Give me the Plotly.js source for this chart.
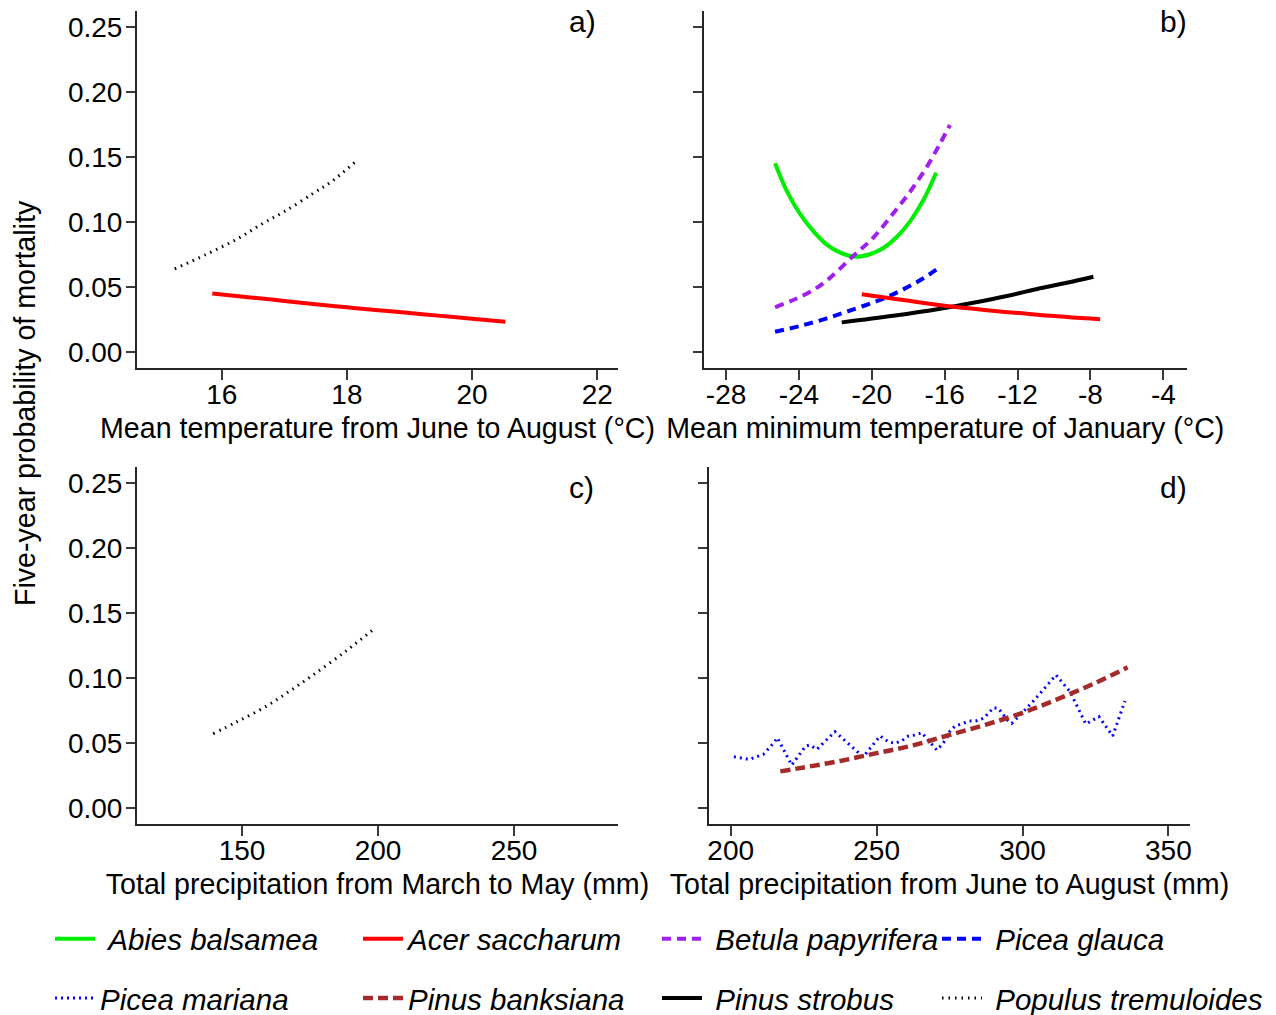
<!DOCTYPE html>
<html>
<head>
<meta charset="utf-8">
<script src="https://cdn.plot.ly/plotly-3.0.1.min.js"></script>
<style>html,body{margin:0;padding:0;background:#fff;}#chart{width:1276px;height:1015px;}</style>
</head>
<body>
<div id="chart"></div>
<script>
// ---------- Data ----------
// Panel a) Mean temperature from June to August (°C)
const a_populus_x = [15.25, 15.75, 16.25, 16.66, 17.0, 17.46, 17.75, 18.13];
const a_populus_y = [0.064, 0.075, 0.087, 0.099, 0.108, 0.122, 0.131, 0.146];
const a_acer_x = [15.85, 16.5, 17.0, 17.5, 18.0, 18.5, 19.0, 19.5, 20.0, 20.53];
const a_acer_y = [0.045, 0.0418, 0.0393, 0.0368, 0.0344, 0.0322, 0.0300, 0.0278, 0.0256, 0.0233];

// Panel b) Mean minimum temperature of January (°C)
const b_abies_x = [-25.31, -24.67, -23.94, -23.21, -22.47, -21.74, -20.92, -20.10, -19.37, -18.63, -17.90, -17.17, -16.47];
const b_abies_y = [0.1452, 0.1240, 0.1062, 0.0930, 0.0826, 0.0764, 0.0733, 0.0752, 0.0800, 0.0885, 0.1005, 0.1169, 0.1379];
const b_betula_x = [-25.31, -24.31, -23.21, -22.30, -21.10, -19.92, -18.82, -17.90, -16.98, -16.25, -15.71];
const b_betula_y = [0.0344, 0.0400, 0.0477, 0.0570, 0.0728, 0.0880, 0.1067, 0.1233, 0.1425, 0.1605, 0.1746];
const b_glauca_x = [-25.31, -23.94, -22.47, -21.01, -19.55, -18.27, -17.17, -16.35];
const b_glauca_y = [0.0156, 0.0200, 0.0259, 0.0328, 0.0400, 0.0482, 0.0567, 0.0644];
const b_acer_x = [-20.55, -18.5, -15.89, -13.51, -10.77, -7.47];
const b_acer_y = [0.0444, 0.0404, 0.0354, 0.0320, 0.0285, 0.0252];
const b_strobus_x = [-21.65, -18.82, -16.25, -14.43, -12.59, -10.77, -9.30, -7.84];
const b_strobus_y = [0.0228, 0.0279, 0.0333, 0.0379, 0.0431, 0.0490, 0.0533, 0.0579];

// Panel c) Total precipitation from March to May (mm)
const c_populus_x = [139.4, 148, 157.8, 167, 176.2, 188.5, 198.9];
const c_populus_y = [0.0569, 0.0660, 0.0767, 0.0890, 0.1023, 0.1210, 0.1382];

// Panel d) Total precipitation from June to August (mm)
const d_banksiana_x = [217, 225, 237.5, 250, 262.5, 275, 287.5, 300, 312.5, 325, 336];
const d_banksiana_y = [0.028, 0.031, 0.036, 0.042, 0.048, 0.056, 0.064, 0.073, 0.084, 0.096, 0.108];
const d_mariana_x = [201.1, 203.8, 206.3, 211.2, 212.9, 214.6, 216.0, 220.9, 225.7, 227.2, 229.5, 235.7, 245.4, 251.2, 254.0, 256.3, 258.6, 260.9, 263.2, 265.5, 270.6, 272.3, 274.0, 275.2, 276.9, 279.2, 281.8, 284.3, 286.6, 288.3, 290.0, 291.7, 293.2, 294.8, 296.3, 298.1, 303.5, 311.5, 316.3, 321.7, 326.2, 330.9, 335.1];
const d_mariana_y = [0.0392, 0.0380, 0.0372, 0.0411, 0.0449, 0.0495, 0.0538, 0.0328, 0.0475, 0.0482, 0.0449, 0.0585, 0.0392, 0.0552, 0.0508, 0.0495, 0.0515, 0.0552, 0.0559, 0.0577, 0.0444, 0.0482, 0.0534, 0.0592, 0.0628, 0.0649, 0.0667, 0.0669, 0.0688, 0.0726, 0.0769, 0.0765, 0.0721, 0.0675, 0.0649, 0.0688, 0.0815, 0.1021, 0.0892, 0.0644, 0.0700, 0.0552, 0.0821];

// Axis ticks
const yTicks = [0, 0.05, 0.10, 0.15, 0.20, 0.25];
const aTicks = [16, 18, 20, 22];
const bTicks = [-28, -24, -20, -16, -12, -8, -4];
const cTicks = [150, 200, 250];
const dTicks = [200, 250, 300, 350];

// Labels
const xTitles = [
  'Mean temperature from June to August (°C)',
  'Mean minimum temperature of January (°C)',
  'Total precipitation from March to May (mm)',
  'Total precipitation from June to August (mm)'
];
const yTitle = 'Five-year probability of mortality';
const panelLabels = ['a)', 'b)', 'c)', 'd)'];

// ---------- Styles ----------
const FONT = '"Liberation Sans", Arial, sans-serif';
const NB = '\u00A0';
const sp = {
  abies:    {name: 'Abies balsamea',      color: '#00EE00', dash: 'solid',     width: 4,   legend: 'legend',  group: 'g1', pre: NB},
  acer:     {name: 'Acer saccharum',      color: '#FF0000', dash: 'solid',     width: 4,   legend: 'legend2', group: 'g1', pre: ''},
  betula:   {name: 'Betula papyrifera',   color: '#A020F0', dash: '9px,6px',   width: 4,   legend: 'legend3', group: 'g1', pre: NB},
  glauca:   {name: 'Picea glauca',        color: '#0000FF', dash: '9px,6px',   width: 4,   legend: 'legend4', group: 'g1', pre: NB},
  mariana:  {name: 'Picea mariana',       color: '#0000FF', dash: '2px,4px',   width: 3,   legend: 'legend',  group: 'g2', pre: ''},
  banksiana:{name: 'Pinus banksiana',     color: '#A52A2A', dash: '10px,5px',  width: 4.5, legend: 'legend2', group: 'g2', pre: ''},
  strobus:  {name: 'Pinus strobus',       color: '#000000', dash: 'solid',     width: 4,   legend: 'legend3', group: 'g2', pre: NB},
  populus:  {name: 'Populus tremuloides', color: '#000000', dash: '1.5px,5px', width: 3,   legend: 'legend4', group: 'g2', pre: NB}
};

function tr(key, x, y, xa, ya, showlegend, shape) {
  const s = sp[key];
  return {
    type: 'scatter', mode: 'lines', x: x, y: y, xaxis: xa, yaxis: ya,
    name: s.pre + '<i>' + s.name + '</i>',
    line: {color: s.color, width: s.width, dash: s.dash, shape: shape || 'spline', smoothing: 1.0},
    showlegend: showlegend, legend: s.legend, legendgroup: s.group + key,
    hoverinfo: 'skip'
  };
}

const data = [
  tr('abies',   b_abies_x,   b_abies_y,   'x2', 'y2', true),
  tr('mariana', d_mariana_x, d_mariana_y, 'x4', 'y4', true, 'linear'),
  tr('acer',    a_acer_x,    a_acer_y,    'x',  'y',  true),
  tr('banksiana', d_banksiana_x, d_banksiana_y, 'x4', 'y4', true),
  tr('betula',  b_betula_x,  b_betula_y,  'x2', 'y2', true),
  tr('strobus', b_strobus_x, b_strobus_y, 'x2', 'y2', true),
  tr('glauca',  b_glauca_x,  b_glauca_y,  'x2', 'y2', true),
  tr('populus', a_populus_x, a_populus_y, 'x',  'y',  true),
  tr('acer',    b_acer_x,    b_acer_y,    'x2', 'y2', false),
  tr('populus', c_populus_x, c_populus_y, 'x3', 'y3', false)
];

const W = 1276, H = 1015;
const px = v => v / W;
const py = v => 1 - v / H;

function xax(domainPx, range, ticks, title) {
  return {
    domain: [px(domainPx[0]), px(domainPx[1])], range: range,
    tickmode: 'array', tickvals: ticks, ticktext: ticks.map(String),
    showline: true, linecolor: '#262626', linewidth: 2,
    ticks: 'outside', ticklen: 10, tickwidth: 2, tickcolor: '#3a3a3a',
    ticklabelstandoff: -10,
    showgrid: false, zeroline: false,
    tickfont: {family: FONT, size: 28, color: '#000'},
    title: {text: title, font: {family: FONT, size: 28.6, color: '#000'}, standoff: 9},
    fixedrange: true
  };
}
function yax(domainPx, range, showLabels, anchor) {
  return {
    domain: [py(domainPx[1]), py(domainPx[0])], range: range, anchor: anchor,
    tickmode: 'array', tickvals: yTicks, ticktext: yTicks.map(v => v.toFixed(2)),
    showticklabels: showLabels,
    showline: true, linecolor: '#262626', linewidth: 2,
    ticks: 'outside', ticklen: 9, tickwidth: 2, tickcolor: '#3a3a3a',
    ticklabelstandoff: -2,
    showgrid: false, zeroline: false,
    tickfont: {family: FONT, size: 28, color: '#000'},
    fixedrange: true
  };
}

const legendBase = {
  orientation: 'v', yanchor: 'top', xanchor: 'left', y: py(913),
  font: {family: FONT, size: 29.5, color: '#000'},
  bgcolor: 'rgba(0,0,0,0)', borderwidth: 0,
  traceorder: 'grouped', tracegroupgap: 18, itemwidth: 40
};

const labelFont = {family: FONT, size: 30, color: '#000'};

const layout = {
  width: W, height: H,
  margin: {l: 0, r: 0, t: 0, b: 0, autoexpand: false},
  paper_bgcolor: '#fff', plot_bgcolor: '#fff',
  font: {family: FONT, color: '#000'},
  xaxis:  Object.assign(xax([137, 618], [14.647, 22.33], aTicks, xTitles[0]), {anchor: 'y'}),
  yaxis:  yax([11, 368], [-0.0123, 0.2623], true, 'x'),
  xaxis2: Object.assign(xax([704, 1186.7], [-29.21, -2.72], bTicks, xTitles[1]), {anchor: 'y2'}),
  yaxis2: yax([11, 368], [-0.0123, 0.2623], false, 'x2'),
  xaxis3: Object.assign(xax([137, 618], [111.4, 288.2], cTicks, xTitles[2]), {anchor: 'y3'}),
  yaxis3: yax([467, 824], [-0.0125, 0.2621], true, 'x3'),
  xaxis4: Object.assign(xax([709, 1190], [192.56, 357.4], dTicks, xTitles[3]), {anchor: 'y4'}),
  yaxis4: yax([467, 824], [-0.0125, 0.2621], false, 'x4'),
  showlegend: true,
  legend:  Object.assign({}, legendBase, {x: px(50)}),
  legend2: Object.assign({}, legendBase, {x: px(358)}),
  legend3: Object.assign({}, legendBase, {x: px(657)}),
  legend4: Object.assign({}, legendBase, {x: px(937)}),
  annotations: [
    {text: yTitle, xref: 'paper', yref: 'paper', x: px(25), y: py(403), textangle: -90,
     showarrow: false, font: {family: FONT, size: 28.6, color: '#000'}, xanchor: 'center', yanchor: 'middle'},
    {text: panelLabels[0], xref: 'paper', yref: 'paper', x: px(598), y: py(22), xanchor: 'right', yanchor: 'middle', showarrow: false, font: labelFont},
    {text: panelLabels[1], xref: 'paper', yref: 'paper', x: px(1189), y: py(22), xanchor: 'right', yanchor: 'middle', showarrow: false, font: labelFont},
    {text: panelLabels[2], xref: 'paper', yref: 'paper', x: px(596), y: py(487), xanchor: 'right', yanchor: 'middle', showarrow: false, font: labelFont},
    {text: panelLabels[3], xref: 'paper', yref: 'paper', x: px(1189), y: py(487), xanchor: 'right', yanchor: 'middle', showarrow: false, font: labelFont}
  ]
};

Plotly.newPlot('chart', data, layout, {displayModeBar: false, staticPlot: true});
</script>
</body>
</html>
